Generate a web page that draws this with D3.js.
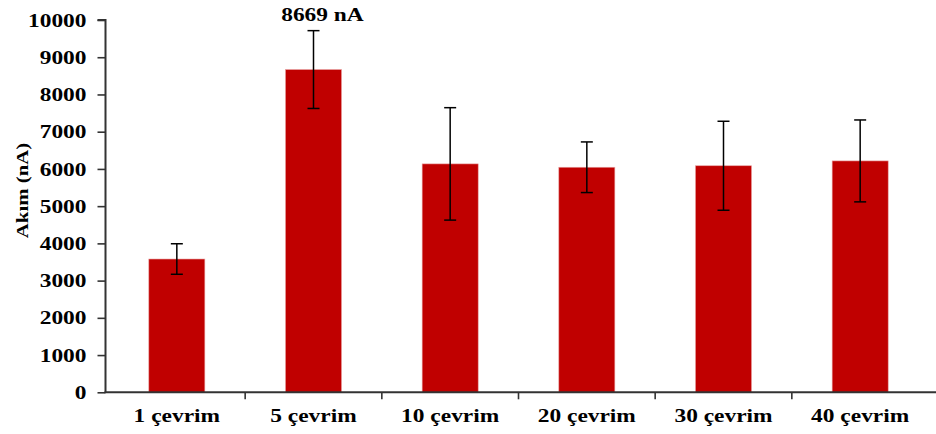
<!DOCTYPE html>
<html><head><meta charset="utf-8">
<script src="https://cdn.jsdelivr.net/npm/d3@7"></script>
<style>
html,body{margin:0;padding:0;background:#fff;}
svg text{font-family:"Liberation Serif","Times New Roman",serif;font-weight:bold;fill:#000;}
</style></head>
<body>
<svg id="c" width="936" height="434"></svg>
<script>
const categories = ["1 çevrim","5 çevrim","10 çevrim","20 çevrim","30 çevrim","40 çevrim"];
const values = [3580, 8669, 6135, 6045, 6085, 6215];
const errors = [410, 1045, 1510, 680, 1195, 1100];
const yTicks = [0,1000,2000,3000,4000,5000,6000,7000,8000,9000,10000];
const peakLabel = "8669 nA";
const yTitle = "Akım (nA)";

const STRETCH = 1.3;
const svg = d3.select("#c");
const x0 = 105.5, yTop = 20, yBot = 392.3;
const x = d3.scaleBand().domain(categories).range([108.5, 928.5]).paddingInner(0.59).paddingOuter(0.295);
const y = d3.scaleLinear().domain([0, 10000]).range([yBot, yTop]);

function stretch(sel){
  sel.each(function(){
    const len = this.getComputedTextLength();
    d3.select(this).attr("textLength", len*STRETCH).attr("lengthAdjust","spacingAndGlyphs");
  });
}

// bars
svg.append("g").selectAll("rect").data(categories).join("rect")
  .attr("x", d => x(d)).attr("width", x.bandwidth())
  .attr("y", (d,i) => y(values[i])).attr("height", (d,i) => y(0) - y(values[i]))
  .attr("fill", "#c00000").attr("stroke","#e8a0a0").attr("stroke-width",0.6);

// error bars
const eg = svg.append("g").attr("stroke","#000").attr("stroke-width",1.5);
categories.forEach((c,i) => {
  const cx = x(c) + x.bandwidth()/2;
  const hi = y(values[i]+errors[i]), lo = y(values[i]-errors[i]);
  eg.append("line").attr("x1",cx).attr("x2",cx).attr("y1",hi).attr("y2",lo);
  eg.append("line").attr("x1",cx-6).attr("x2",cx+6).attr("y1",hi).attr("y2",hi);
  eg.append("line").attr("x1",cx-6).attr("x2",cx+6).attr("y1",lo).attr("y2",lo);
});

// y axis
const ya = svg.append("g").attr("transform",`translate(${x0},0)`)
  .call(d3.axisLeft(y).tickValues(yTicks).tickSize(8).tickPadding(11).tickFormat(d3.format("d")));
ya.select(".domain").attr("stroke","#333").attr("stroke-width",2).attr("d",`M-8,${yTop}H0V${yBot}`);
ya.selectAll(".tick line").attr("stroke","#333").attr("stroke-width",1.6);
ya.selectAll(".tick text").style("font-size","18px").attr("dy","0.34em").call(stretch);

// x axis
const xa = svg.append("g").attr("transform",`translate(0,${yBot})`);
xa.append("line").attr("x1",x0-1).attr("x2",936).attr("y1",0).attr("y2",0).attr("stroke","#333").attr("stroke-width",2);
const step = x.step();
const bounds = categories.slice(1).map(c => x(c) - x.paddingInner()*step/2);
xa.selectAll("line.tk").data(bounds).join("line").attr("class","tk")
  .attr("x1",d=>d).attr("x2",d=>d).attr("y1",0).attr("y2",7).attr("stroke","#333").attr("stroke-width",1.6);
xa.selectAll("text").data(categories).join("text")
  .attr("x", d => x(d)+x.bandwidth()/2).attr("y", 29.5)
  .attr("text-anchor","middle").style("font-size","18px").text(d=>d).call(stretch);

// peak label
svg.append("text").attr("x", x(categories[1])+x.bandwidth()/2 + 9).attr("y", 20.5)
  .attr("text-anchor","middle").style("font-size","18px").text(peakLabel).call(stretch);

// y title
svg.append("text").attr("transform",`translate(28,190.5) rotate(-90)`)
  .attr("text-anchor","middle").style("font-size","16px").text(yTitle).call(stretch);
</script>
</body></html>
